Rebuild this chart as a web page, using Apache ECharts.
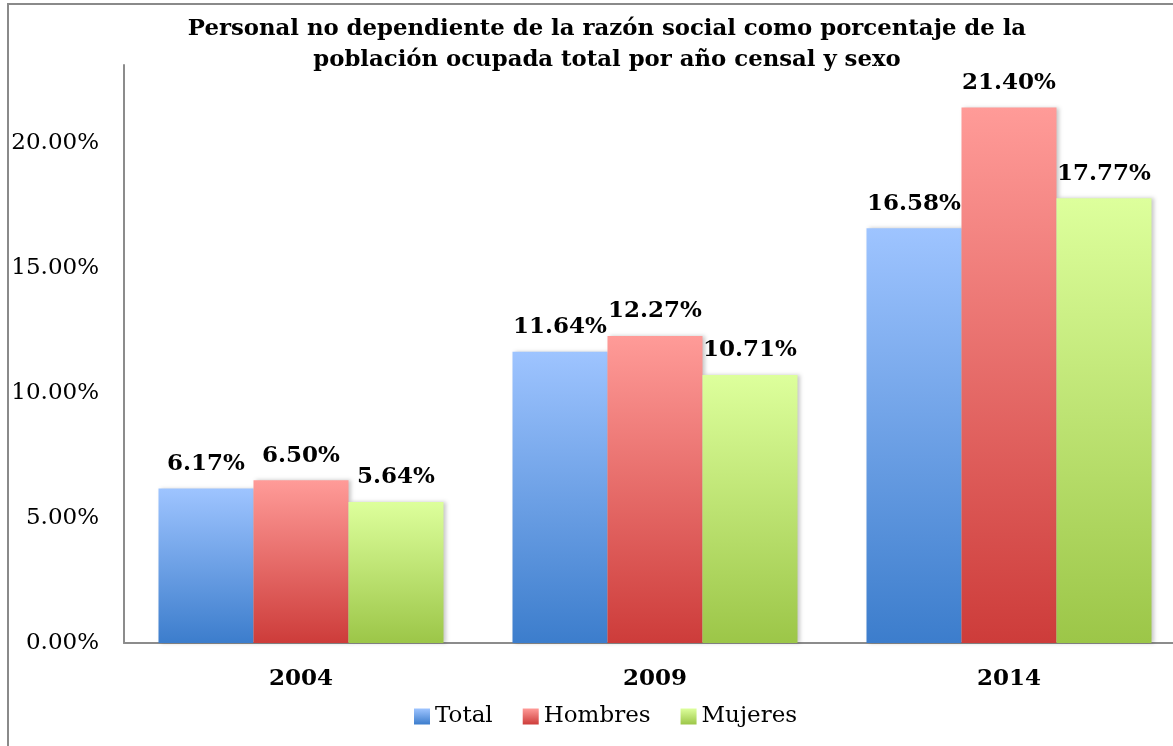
<!DOCTYPE html>
<html>
<head>
<meta charset="utf-8">
<script src="https://cdn.jsdelivr.net/npm/echarts@6/dist/echarts.min.js"></script>
<style>
html,body{margin:0;padding:0;background:#fff;}
#chart{width:1173px;height:746px;}
</style>
</head>
<body>
<div id="chart"></div>
<script>
const categories = ['2004', '2009', '2014'];
const seriesNames = ['Total', 'Hombres', 'Mujeres'];
const totalValues = [6.17, 11.64, 16.58];
const hombresValues = [6.50, 12.27, 21.40];
const mujeresValues = [5.64, 10.71, 17.77];
const yTicks = [0, 5, 10, 15, 20];
const titleText = 'Personal no dependiente de la razón social como porcentaje de la\npoblación ocupada total por año censal y sexo';

const serif = 'DejaVu Serif';
function grad(top, bottom) {
  return new echarts.graphic.LinearGradient(0, 0, 0, 1, [
    {offset: 0, color: top},
    {offset: 1, color: bottom}
  ]);
}
const colors = [
  grad('#9EC4FF', '#3C7DCC'),
  grad('#FF9B98', '#CD3C3A'),
  grad('#DDFF9C', '#9CC648')
];
const dataSets = [totalValues, hombresValues, mujeresValues];

const chart = echarts.init(document.getElementById('chart'));
chart.setOption({
  animation: false,
  backgroundColor: '#fff',
  title: {
    text: titleText,
    left: 602,
    top: 9,
    textAlign: 'center',
    textStyle: {fontFamily: serif, fontWeight: 'bold', fontSize: 22.8, lineHeight: 31, color: '#000'}
  },
  graphic: [{
    type: 'rect',
    shape: {x: 8, y: 4, width: 1300, height: 900},
    style: {fill: 'none', stroke: '#8a8a8a', lineWidth: 2},
    silent: true
  }],
  legend: {
    data: seriesNames,
    left: 409,
    top: 700,
    itemWidth: 16,
    itemHeight: 16,
    itemGap: 30,
    icon: 'rect',
    textStyle: {fontFamily: serif, fontSize: 23, color: '#000', padding: [0, 0, 0, 0]}
  },
  grid: {left: 124, width: 1062, top: 65, bottom: 103, containLabel: false, outerBoundsMode: 'none'},
  xAxis: {
    type: 'category',
    data: categories,
    axisLine: {lineStyle: {color: '#8c8c8c', width: 2}},
    axisTick: {show: false},
    axisLabel: {fontFamily: serif, fontWeight: 'bold', fontSize: 23, color: '#000', margin: 25}
  },
  yAxis: {
    type: 'value',
    min: 0,
    max: 23.1,
    interval: 5,
    splitLine: {show: false},
    axisTick: {show: false},
    axisLine: {show: true, lineStyle: {color: '#8c8c8c', width: 2}},
    axisLabel: {
      showMaxLabel: false,
      fontFamily: serif, fontSize: 23, color: '#000', margin: 25,
      formatter: v => yTicks.includes(v) ? v.toFixed(2) + '%' : ''
    }
  },
  series: seriesNames.map((name, i) => ({
    name: name,
    type: 'bar',
    data: dataSets[i],
    barWidth: 95,
    barGap: '0%',
    itemStyle: {
      color: colors[i],
      shadowColor: 'rgba(0,0,0,0.22)',
      shadowBlur: 4,
      shadowOffsetX: 2,
      shadowOffsetY: 0
    },
    label: {
      show: true,
      position: 'top',
      distance: 13,
      fontFamily: serif,
      fontWeight: 'bold',
      fontSize: 23,
      color: '#000',
      formatter: p => p.value.toFixed(2) + '%'
    }
  }))
});
</script>
</body>
</html>
